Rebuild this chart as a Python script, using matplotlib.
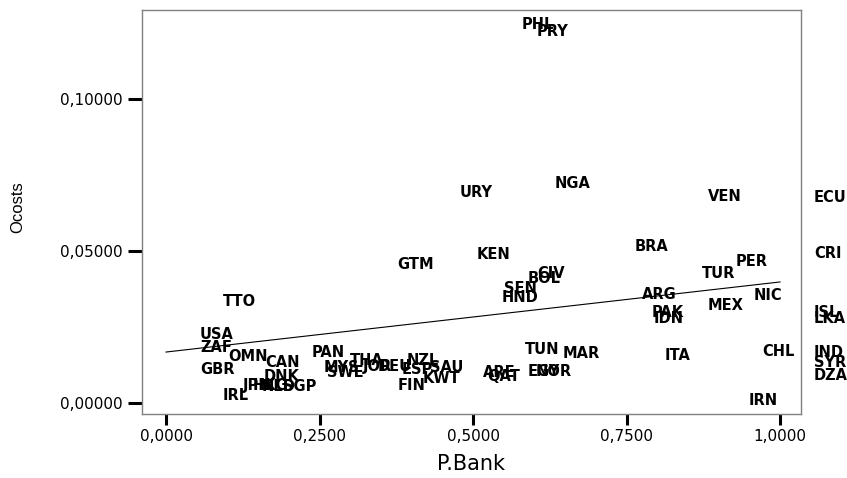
import matplotlib
matplotlib.use("Agg")
import matplotlib.pyplot as plt

# country codes and their (P.Bank, Ocosts) values
countries = ["PHL", "PRY", "URY", "NGA", "VEN", "ECU", "BRA", "CRI", "KEN", "GTM",
             "PER", "TUR", "CIV", "BOL", "SEN", "HND", "ARG", "NIC", "MEX", "TTO",
             "ISL", "LKA", "PAK", "IDN", "USA", "ZAF", "OMN", "CAN", "PAN", "GBR",
             "MYS", "SWE", "THA", "JOR", "DEU", "NZL", "ESP", "SAU", "FIN", "KWT",
             "ARE", "QAT", "TUN", "MAR", "EGY", "NOR", "ITA", "CHL", "IND", "SYR",
             "DZA", "IRN", "DNK", "JPN", "HKG", "NLD", "SGP", "IRL"]

p_bank = [0.523, 0.549, 0.423, 0.577, 0.827, 1.000, 0.708, 1.000, 0.451, 0.321,
          0.873, 0.818, 0.549, 0.533, 0.495, 0.492, 0.720, 0.902, 0.826, 0.037,
          1.000, 1.000, 0.736, 0.739, 0.000, 0.000, 0.046, 0.107, 0.182, 0.000,
          0.202, 0.207, 0.244, 0.265, 0.290, 0.336, 0.329, 0.375, 0.322, 0.363,
          0.461, 0.467, 0.529, 0.591, 0.533, 0.546, 0.756, 0.915, 1.000, 1.000,
          1.000, 0.893, 0.103, 0.070, 0.085, 0.101, 0.135, 0.037]

ocosts = [0.1245, 0.1222, 0.0694, 0.0724, 0.0681, 0.0675, 0.0514, 0.0493, 0.0490, 0.0457,
          0.0467, 0.0427, 0.0427, 0.0411, 0.0378, 0.0348, 0.0358, 0.0355, 0.0322, 0.0332,
          0.0296, 0.0279, 0.0296, 0.0279, 0.0226, 0.0183, 0.0151, 0.0134, 0.0164, 0.0108,
          0.0115, 0.0101, 0.0138, 0.0121, 0.0121, 0.0138, 0.0108, 0.0115, 0.0058, 0.0081,
          0.0098, 0.0085, 0.0174, 0.0161, 0.0104, 0.0104, 0.0154, 0.0170, 0.0164, 0.0134,
          0.0091, 0.0006, 0.0085, 0.0058, 0.0058, 0.0055, 0.0055, 0.0025]

# fit line end points
fit_x = [0.0, 1.0]
fit_y = [0.0167, 0.0398]

x_ticks = [0.0, 0.25, 0.5, 0.75, 1.0]
x_ticklabels = ["0,0000", "0,2500", "0,5000", "0,7500", "1,0000"]
y_ticks = [0.0, 0.05, 0.10]
y_ticklabels = ["0,00000", "0,05000", "0,10000"]

fig = plt.figure(figsize=(8.47, 4.78), dpi=100)
ax = fig.add_axes([142 / 847, 64 / 478, 659 / 847, 404.5 / 478])

# case labels drawn to the right of each (hidden) point
for name, xv, yv in zip(countries, p_bank, ocosts):
    ax.annotate(name, (xv, yv), xytext=(24.5, 0), textcoords="offset points",
                ha="left", va="center", fontsize=10.5, fontweight="bold",
                family="DejaVu Sans", color="black", annotation_clip=False)

ax.plot(fit_x, fit_y, color="black", linewidth=0.8)

ax.set_xlim(-0.0391, 1.0342)
ax.set_ylim(-0.00372, 0.1296)

ax.set_xticks(x_ticks)
ax.set_xticklabels(x_ticklabels, fontsize=11, family="DejaVu Sans")
ax.set_yticks(y_ticks)
ax.set_yticklabels(y_ticklabels, fontsize=11, family="DejaVu Sans")
ax.tick_params(axis="x", direction="out", length=8, width=2.2, pad=3)
ax.tick_params(axis="y", direction="out", length=10, width=2.2, pad=4)

for sp in ax.spines.values():
    sp.set_color("#808080")
    sp.set_linewidth(1.0)

fig.text(471 / 847, 1 - 464 / 478, "P.Bank", ha="center", va="center",
         fontsize=15, family="DejaVu Sans")
fig.text(18 / 847, 1 - 207 / 478, "Ocosts", ha="center", va="center",
         rotation=90, fontsize=12, family="Liberation Sans")

fig.savefig("out.png", dpi=100)
